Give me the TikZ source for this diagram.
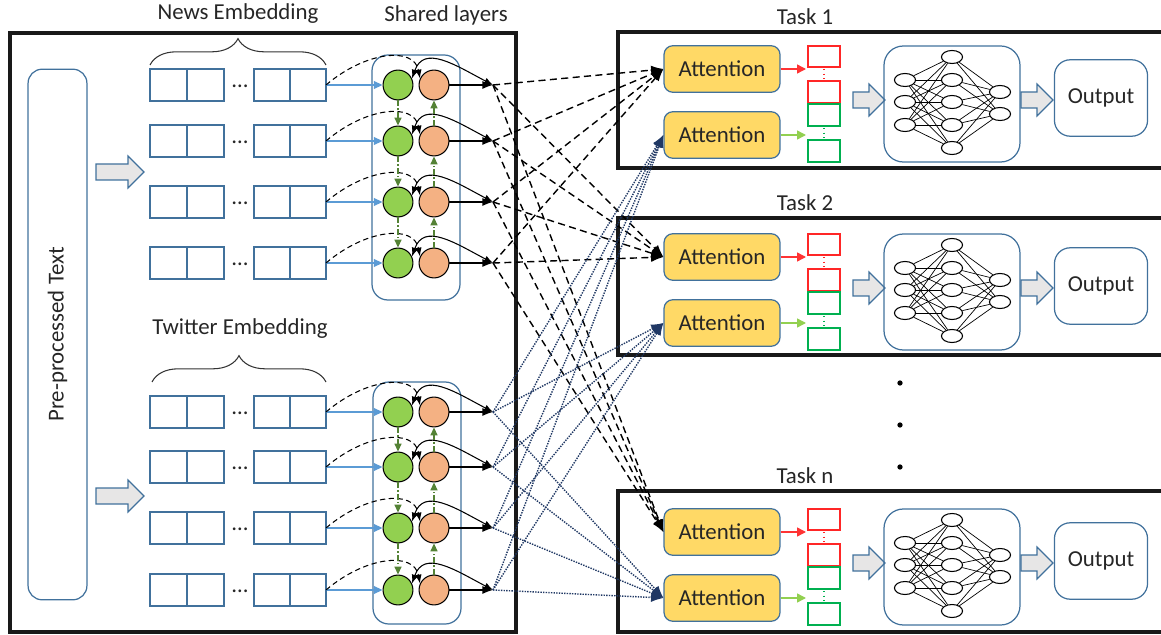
\documentclass[tikz,border=0pt]{standalone}
\usepackage{fontspec}
\setmainfont{Carlito}
\usetikzlibrary{arrows.meta,shapes.geometric,decorations.pathreplacing}

\definecolor{boxblue}{HTML}{41719C}
\definecolor{arrblue}{HTML}{5B9BD5}
\definecolor{cellgreen}{HTML}{92D050}
\definecolor{cellorange}{HTML}{F4B183}
\definecolor{linkgreen}{HTML}{548235}
\definecolor{attyellow}{HTML}{FFD966}
\definecolor{dotnavy}{HTML}{203864}
\definecolor{arrgray}{HTML}{E7E6E6}
\definecolor{outred}{HTML}{FF0000}
\definecolor{outgreen}{HTML}{00B050}
\definecolor{txtgray}{HTML}{262626}

\tikzset{
  taskframe/.style={draw=black!90, line width=2pt},
  cell/.style={draw=boxblue, line width=0.7pt},
  gnode/.style={circle, draw, fill=cellgreen, minimum size=17pt, inner sep=0pt, line width=0.6pt},
  onode/.style={gnode, fill=cellorange},
  feedarr/.style={arrblue, line width=0.8pt, -{Triangle[length=5pt,width=4.5pt]}},
  skiparr/.style={dash pattern=on 3pt off 2pt, line width=0.6pt, -{Latex[length=5pt]}},
  backarr/.style={line width=0.6pt, {Latex[length=5pt]}-{Latex[length=5pt]}},
  sendarr/.style={line width=0.7pt, -{Latex[length=6pt]}},
  shareflow/.style={linkgreen, line width=0.7pt, dash pattern=on 3pt off 1.5pt on 0.7pt off 1.5pt, -{Triangle[length=4.5pt,width=4pt]}},
  att/.style={draw=boxblue, fill=attyellow, rounded corners=5pt, minimum width=66pt, minimum height=26.5pt, line width=0.7pt},
  outbox/.style={draw=boxblue, rounded corners=9pt, minimum width=53pt, minimum height=43.5pt, line width=0.7pt},
  neuron/.style={ellipse, draw, fill=white, minimum width=12pt, minimum height=7.4pt, inner sep=0pt, line width=0.6pt},
  syn/.style={line width=0.4pt},
  embbrace/.style={decorate, decoration={brace, amplitude=15pt}, line width=0.6pt, black!80},
  newsarr/.style={dash pattern=on 4pt off 2.5pt, line width=0.8pt, -{Latex[length=7pt]}},
  tweetarr/.style={dotnavy, dash pattern=on 0.8pt off 0.7pt, line width=0.8pt, -{Latex[length=7pt]}}
}

% gray block arrow: x, y (centre of tail), body length
\newcommand{\grayarrow}[3]{%
  \draw[boxblue, fill=arrgray, line width=0.7pt] (#1,#2) ++(0,-8) -- ++(#3,0) -- ++(0,-8) -- ++(16,16) -- ++(-16,16) -- ++(0,-8) -- ++(-#3,0) -- cycle;}

\begin{document}
\begin{tikzpicture}[x=0.02cm, y=-0.02cm, font=\fontsize{13}{15}\selectfont, text=txtgray]
\useasboundingbox (0,0) rectangle (1161,635);
\clip (0,0) rectangle (1161,635);

% left part
\draw[taskframe] (10,33) rectangle (516,632);
\node[draw=boxblue, rounded corners=8pt, rotate=90, minimum width=302pt, minimum height=33.5pt, line width=0.7pt] (prep) at (57.5,334.5) {Pre-processed Text};
\grayarrow{96}{172}{32}
\grayarrow{96}{496}{32}

\node (newslbl) at (238,14) {News Embedding};
\node (twlbl) at (240,329) {Twitter Embedding};
\node (sharedlbl) at (446,15) {Shared layers};
\draw[embbrace] (150,65) -- (326,65);
\draw[embbrace] (152,382) -- (326,382);

\draw[cell, rounded corners=9pt] (372,55) rectangle (460,300);
\draw[cell, rounded corners=9pt] (373,382) rectangle (461,624);

\foreach \i/\y in {1/85,2/141,3/202,4/263,5/412,6/467,7/528,8/590}{
  \draw[cell] (150,\y-16) rectangle (187,\y+16) rectangle (224,\y-16);
  \draw[cell] (254,\y-16) rectangle (290,\y+16) rectangle (326,\y-16);
  \node (dots\i) at (240,\y+1) {\dots};
  \coordinate (e\i) at (326,\y);
  \node[gnode] (g\i) at (398,\y) {};
  \node[onode] (o\i) at (434,\y) {};
  \coordinate (x\i) at (493,\y);
  \draw[feedarr] (e\i) -- (g\i);
  \draw[skiparr] (e\i) .. controls +(40,-34) and +(-6,-32) .. (o\i.155);
  \draw[backarr] (g\i.25) .. controls +(12,-34) and +(-38,-20) .. (x\i);
  \draw[sendarr] (o\i) -- (x\i);
}
\foreach \i/\j in {1/2,2/3,3/4,5/6,6/7,7/8}{
  \draw[shareflow] (g\i) -- (g\j);
  \draw[shareflow] (o\j) -- (o\i);
}

% tasks
\foreach \t/\dy/\top/\bot in {1/0/32/168, 2/188/218/355, n/463/491/632}{
  \draw[taskframe] (618,\top) rectangle (1180,\bot);
  \node (task\t) at (805,\top-15) {Task \t};
  \node[att] (atta\t) at (722,69+\dy) {Attention};
  \node[att] (attb\t) at (722,135+\dy) {Attention};
  \draw[outred!85, line width=0.7pt] (808,46+\dy) rectangle (840,67+\dy) (808,81+\dy) rectangle (840,103+\dy);
  \draw[outred!85, line width=0.7pt, dotted] (824,69+\dy) -- (824,79+\dy);
  \draw[outgreen, line width=0.7pt] (808,104+\dy) rectangle (840,126+\dy) (808,140+\dy) rectangle (840,162+\dy);
  \draw[outgreen, line width=0.7pt, dotted] (824,128+\dy) -- (824,138+\dy);
  \coordinate (ra\t) at (806,69+\dy);
  \coordinate (gb\t) at (806,135+\dy);
  \draw[outred!80, line width=0.8pt, -{Triangle[length=5pt,width=5pt]}] (atta\t) -- (ra\t);
  \draw[cellgreen, line width=0.8pt, -{Triangle[length=5pt,width=5pt]}] (attb\t) -- (gb\t);
  \grayarrow{853}{100+\dy}{16}
  \draw[boxblue, line width=0.7pt, rounded corners=11pt] (884,46+\dy) rectangle (1020,162+\dy);
  \foreach \k/\yy in {1/80,2/102,3/125} \node[neuron] (nl\k) at (905,\yy+\dy) {};
  \foreach \k/\yy in {1/57,2/80,3/102,4/125,5/148} \node[neuron] (nm\k) at (952,\yy+\dy) {};
  \foreach \k/\yy in {1/92,2/114} \node[neuron] (nr\k) at (1000,\yy+\dy) {};
  \foreach \a in {1,2,3} \foreach \b in {1,...,5} \draw[syn] (nl\a) -- (nm\b);
  \foreach \a in {1,...,5} \foreach \b in {1,2} \draw[syn] (nm\a) -- (nr\b);
  \grayarrow{1021}{100+\dy}{16}
  \node[outbox] (out\t) at (1101,98+\dy) {Output};
}
\foreach \yy in {383,425,467} \fill (900,\yy) circle (1.5pt);

% connections to attention
\foreach \i in {1,...,4} \foreach \t in {1,2,n} \draw[newsarr] (x\i) -- (atta\t.west);
\foreach \i in {5,...,8} \foreach \t in {1,2,n} \draw[tweetarr] (x\i) -- (attb\t.west);
\end{tikzpicture}
\end{document}
